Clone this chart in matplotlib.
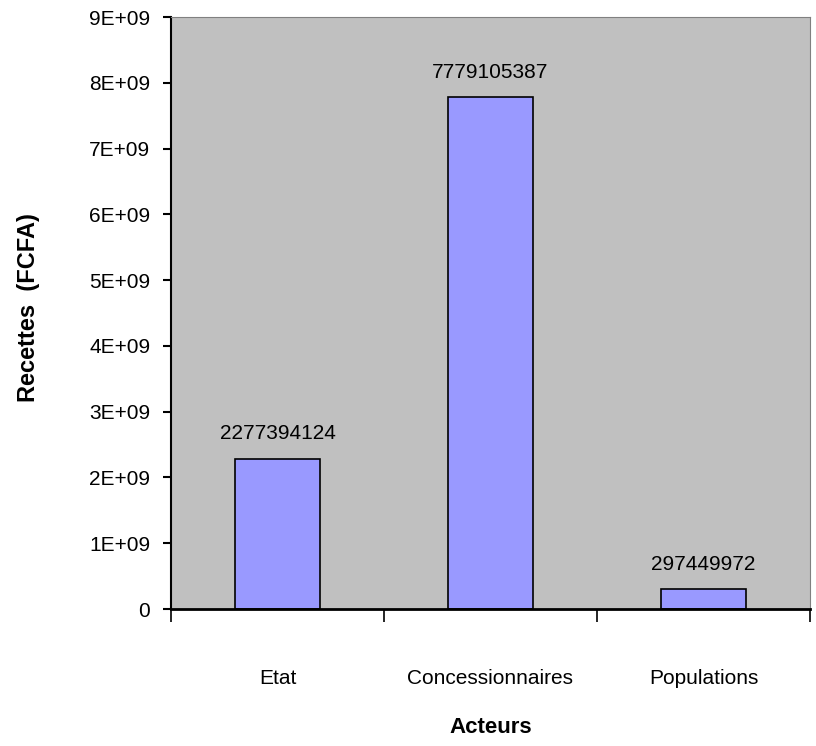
import matplotlib

matplotlib.use("Agg")
import matplotlib.pyplot as plt
from matplotlib.ticker import FuncFormatter, FixedLocator

acteurs = ["Etat", "Concessionnaires", "Populations"]
recettes = [2277394124, 7779105387, 297449972]
y_ticks = [0, 1e9, 2e9, 3e9, 4e9, 5e9, 6e9, 7e9, 8e9, 9e9]

plt.rcParams["font.family"] = ["Liberation Sans", "DejaVu Sans"]


def sci_label(v, _pos):
    if v == 0:
        return "0"
    return f"{int(round(v / 1e9))}E+09"


fig = plt.figure(figsize=(8.16, 7.46), dpi=100)
ax = fig.add_axes([0.2096, 0.1836, 0.7830, 0.7936])
ax.set_facecolor("#c0c0c0")

x = list(range(len(acteurs)))
ax.bar(x, recettes, width=0.40, color="#9999ff", edgecolor="black", linewidth=1.2, zorder=2)
for xi, v in zip(x, recettes):
    ax.text(xi, v + 2.4e8, str(v), ha="center", va="bottom", fontsize=15)

ax.set_xlim(-0.5, 2.5)
ax.set_ylim(0, 9e9)
ax.yaxis.set_major_locator(FixedLocator(y_ticks))
ax.yaxis.set_major_formatter(FuncFormatter(sci_label))
ax.tick_params(axis="y", labelsize=15, length=6, width=1.5, direction="out", pad=9)

# tick marks on category boundaries, names centred between them
ax.set_xticks([-0.5, 0.5, 1.5, 2.5])
ax.set_xticklabels([])
ax.set_xticks(x, minor=True)
ax.set_xticklabels(acteurs, minor=True, fontsize=15)
ax.tick_params(axis="x", which="major", length=9, width=1.2, direction="out")
ax.tick_params(axis="x", which="minor", length=0, pad=43)

ax.spines["left"].set_linewidth(1.5)
ax.spines["bottom"].set_linewidth(2)
ax.spines["top"].set_color("#808080")
ax.spines["right"].set_color("#808080")

ax.set_xlabel("Acteurs", fontsize=16, fontweight="bold")
ax.xaxis.set_label_coords(0.5, -0.183)
ax.set_ylabel("Recettes  (FCFA)", fontsize=17, fontweight="bold")
ax.yaxis.set_label_coords(-0.205, 0.51)

fig.savefig("out.png", dpi=100)
